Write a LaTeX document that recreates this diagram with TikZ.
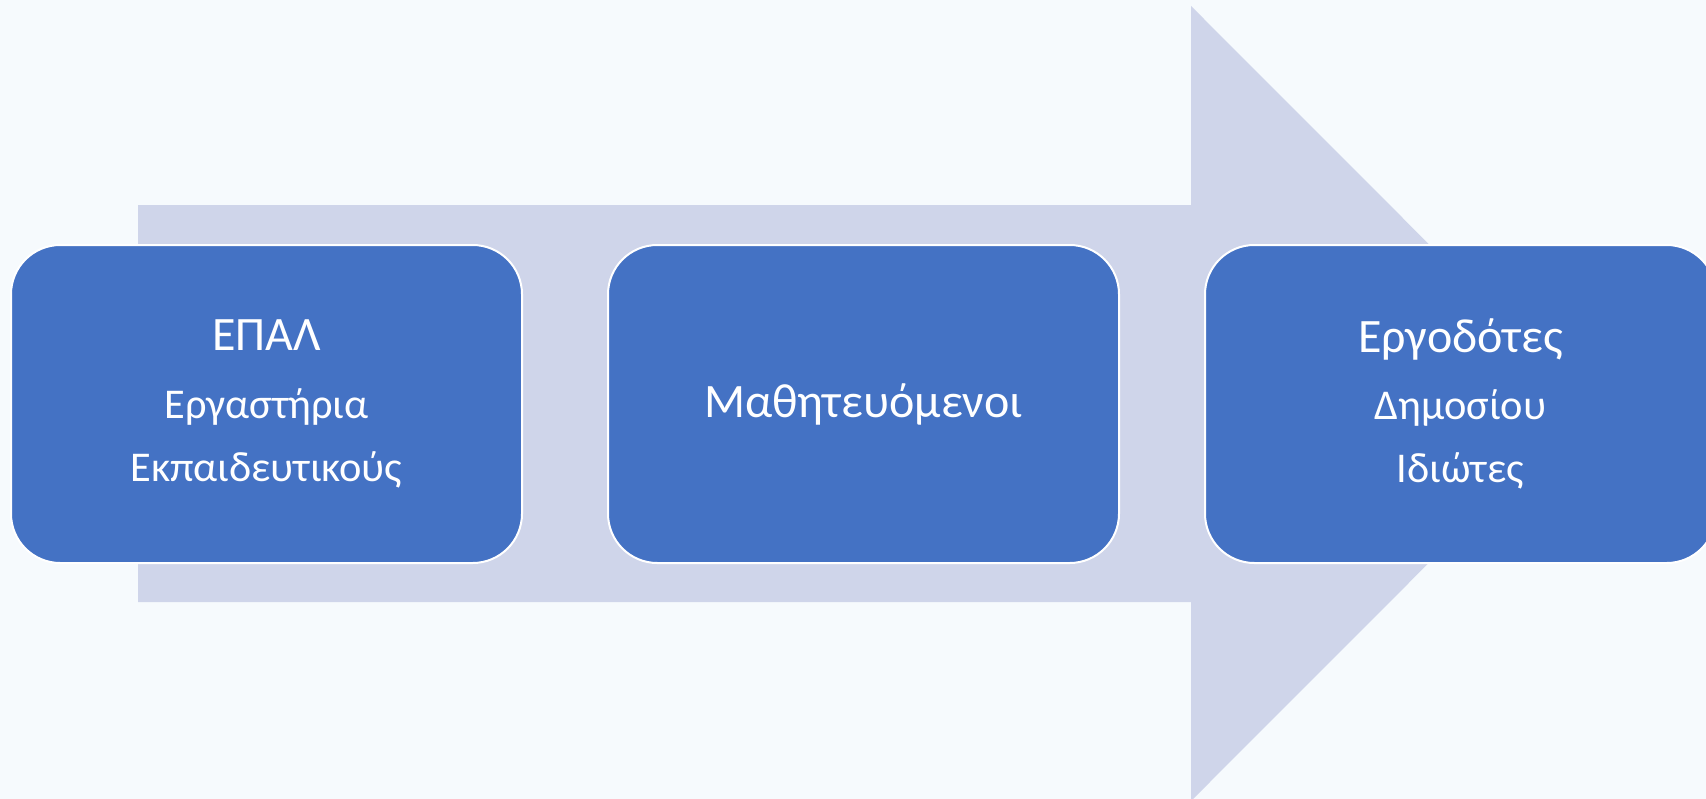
\documentclass[tikz,border=0pt]{standalone}
\usepackage{fontspec}
\setmainfont{Carlito}
\usetikzlibrary{positioning}
\definecolor{bgcol}{HTML}{F6FAFD}
\definecolor{arrowcol}{HTML}{CFD5EA}
\definecolor{boxcol}{HTML}{4472C4}
\newcommand{\bigline}[1]{{\fontsize{36pt}{47.3pt}\selectfont #1}}

\begin{document}
\begin{tikzpicture}[x=0.75pt,y=-0.75pt]
				\tikzstyle{stage}=[rectangle,rounded corners=37pt,draw=white,line width=1.5pt,fill=boxcol,text=white,minimum width=383.25pt,minimum height=238.5pt,inner sep=0pt,outer sep=0pt,align=center,font=\fontsize{31.8pt}{47.3pt}\selectfont]
				
				\useasboundingbox (0,0) rectangle (1706,799);
				\fill[bgcol] (0,0) rectangle (1706,799);
				\clip (0,0) rectangle (1706,799);
				
				% the big arrow behind the boxes
				\fill[arrowcol] (138,205) -- (1191,205) -- (1191,6) -- (1588,403.5) -- (1191,801) -- (1191,602) -- (138,602) -- cycle;
				
				\node[stage] (epal) at (266.5,404) {\bigline{ΕΠΑΛ}\\[3.3pt] Εργαστήρια\\ Εκπαιδευτικούς};
				\node[stage,right=64.5pt of epal] (mathites) {\bigline{Μαθητευόμενοι}};
				\node[stage,right=64.5pt of mathites] (ergodotes) {\bigline{Εργοδότες}\\[3.3pt] Δημοσίου\\ Ιδιώτες};
				
				;\end{tikzpicture}
\end{document}
